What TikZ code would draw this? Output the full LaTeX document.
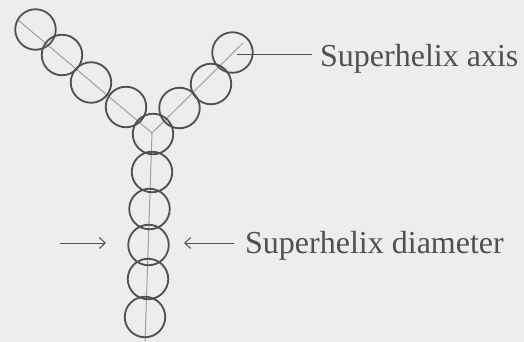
\documentclass[tikz,border=0pt]{standalone}
\usepackage{fontspec}
\setmainfont{Liberation Serif}
\usetikzlibrary{arrows.meta}
\definecolor{bg}{HTML}{EDEDED}
\definecolor{ink}{HTML}{505050}
\definecolor{axisc}{HTML}{A0A0A0}
\begin{document}
\begin{tikzpicture}[x=1pt,y=-1pt,
  bead/.style={draw=ink,line width=1.8pt,circle,minimum size=40.5pt,inner sep=0pt},
  axisline/.style={draw=axisc,line width=1pt},
  pointer/.style={draw=ink,line width=1pt},
  arr/.style={draw=ink,line width=1pt,-{Straight Barb[length=6pt,width=11pt]}},
  lbl/.style={text=ink,font=\fontsize{32}{38}\selectfont,inner sep=0pt,anchor=base west}]
\fill[bg] (0,0) rectangle (524,342);
\useasboundingbox (0,0) rectangle (524,342);
% axes
\coordinate (la) at (18,20);
\coordinate (j) at (152,133);
\coordinate (ra) at (243,43);
\coordinate (vb) at (145,342);
\draw[axisline] (la) -- (j);
\draw[axisline] (ra) -- (j);
\draw[axisline] (j) -- (vb);
% left arm
\node[bead] (l1) at (35.5,29.5) {};
\node[bead] (l2) at (62,55) {};
\node[bead] (l3) at (91,82.5) {};
\node[bead] (l4) at (126,107) {};
% right arm
\node[bead] (r1) at (232.5,52.5) {};
\node[bead] (r2) at (211,84) {};
\node[bead] (r3) at (179.5,108) {};
% stem
\node[bead] (s0) at (153,134) {};
\node[bead] (s1) at (152,172) {};
\node[bead] (s2) at (149.5,209) {};
\node[bead] (s3) at (148.5,245) {};
\node[bead] (s4) at (148,279) {};
\node[bead] (s5) at (145,317) {};
% labels
\node[lbl] (axt) at (320,67) {Superhelix axis};
\node[lbl] (dit) at (245,253) {Superhelix diameter};
\coordinate (p1) at (237,55);
\coordinate (p2) at (312,55);
\draw[pointer] (p1) -- (p2);
\coordinate (a1) at (60,243);
\coordinate (a2) at (106,243);
\coordinate (b1) at (234,243);
\coordinate (b2) at (184,243);
\draw[arr] (a1) -- (a2);
\draw[arr] (b1) -- (b2);
\end{tikzpicture}
\end{document}
